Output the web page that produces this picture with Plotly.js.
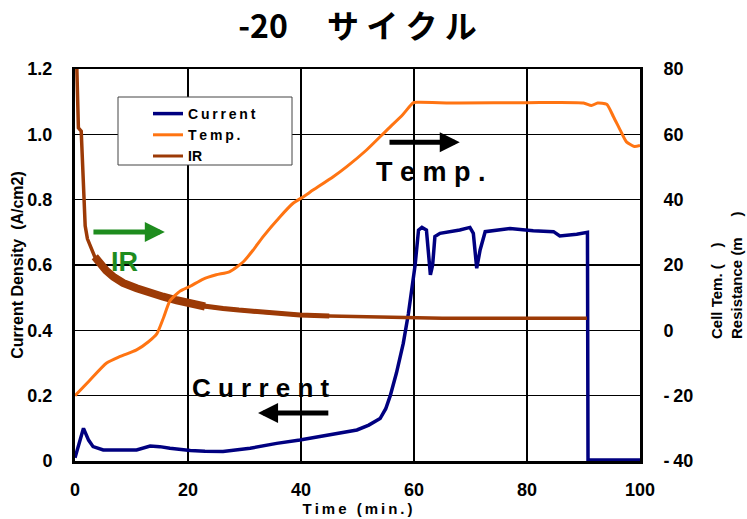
<!DOCTYPE html>
<html><head><meta charset="utf-8">
<script src="https://cdn.plot.ly/plotly-3.0.1.min.js"></script>
<style>html,body{margin:0;padding:0;background:#fff}#chart{width:747px;height:519px}</style>
</head><body><div id="chart"></div>
<script>
// ---- data ----
const timeCurrent = [0, 0.8, 1.5, 2.4, 3.2, 5, 8, 10.9, 13.3, 15, 16.8, 20.4, 23, 26.2, 31, 35.7, 39.8, 45.1, 49.9, 52, 54, 55, 55.8, 56.9, 58.1, 59, 60.2, 60.8, 61.4, 62.2, 62.5, 62.9, 63.3, 63.7, 64.6, 68.1, 69.9, 70.5, 71.1, 71.7, 72.6, 77, 81.1, 84.7, 85.8, 88.8, 90.7, 90.8, 95, 100];
const current     = [0.01, 0.06, 0.1, 0.064, 0.044, 0.034, 0.034, 0.034, 0.046, 0.044, 0.039, 0.032, 0.03, 0.029, 0.039, 0.054, 0.064, 0.08, 0.095, 0.11, 0.13, 0.16, 0.2, 0.27, 0.36, 0.45, 0.6, 0.707, 0.715, 0.707, 0.64, 0.57, 0.6, 0.687, 0.697, 0.707, 0.715, 0.697, 0.59, 0.646, 0.702, 0.712, 0.705, 0.702, 0.689, 0.694, 0.70, 0.003, 0.003, 0.003];

const timeTemp = [0, 2.5, 5.6, 8, 10.9, 13, 14.5, 15.7, 16.8, 18.6, 20.4, 22.7, 25, 27.4, 29.8, 31.5, 33.3, 36.3, 38.6, 40.5, 42.2, 45.7, 48.1, 51.6, 55.2, 58, 59.9, 61, 68, 80, 90, 91.4, 92.5, 94.1, 95.3, 96.5, 97.6, 99, 100];
const temp     = [-20, -15.5, -10, -8, -6, -3.5, -1, 4, 9, 12, 13.5, 15.7, 17, 18, 21, 24.5, 28.7, 34.8, 38.9, 41, 43, 47, 50.1, 55.2, 61.3, 66, 69.7, 69.8, 69.6, 69.7, 69.6, 68.8, 69.6, 69.2, 65.4, 61.3, 57.7, 56.3, 56.6];

const timeIR = [0.1, 0.3, 0.6, 1.1, 1.3, 1.5, 1.8, 2.2, 2.7, 3.5, 4.4, 5.5, 6.8, 8.5, 10.9, 13, 15.6, 18, 20.4, 23, 26.2, 29, 32.1, 36, 39.8, 45, 49.9, 55, 58.7, 65, 75, 85, 90.6];
const ir     = [95, 80, 62, 61, 52, 40, 32, 28, 25.6, 22.5, 20.5, 18.3, 16.4, 14.5, 12.9, 11.5, 10.3, 9.2, 8.0, 7.3, 6.7, 6.2, 5.7, 5.2, 4.7, 4.4, 4.2, 3.9, 3.7, 3.7, 3.7, 3.7, 3.7];

const xTickVals = [0, 20, 40, 60, 80, 100];
const leftTickVals = [0, 0.2, 0.4, 0.6, 0.8, 1.0, 1.2];
const leftTickText = ['0', '0.2', '0.4', '0.6', '0.8', '1.0', '1.2'];
const rightTickVals = [-40, -20, 0, 20, 40, 60, 80];

// ---- styling helpers ----
const FONT = 'Liberation Sans, Arial, sans-serif';
const sp = s => s.split('').join('\u2009');
const C_CUR = '#000080', C_TEMP = '#ff7412', C_IR = '#9c3a06', C_GREEN = '#1e8c1e';

function subset(xs, ys, lo, hi) {
  const ox = [], oy = [];
  xs.forEach((x, i) => { if (x >= lo && x <= hi) { ox.push(x); oy.push(ys[i]); } });
  return {x: ox, y: oy};
}
const irBand1 = subset(timeIR, ir, 3.5, 23);
const irBand2 = subset(timeIR, ir, 20.4, 45);

const traces = [
  {x: timeIR, y: ir, yaxis: 'y2', type: 'scatter', mode: 'lines', showlegend: false, hoverinfo: 'skip',
   line: {color: C_IR, width: 3.5}},
  {x: irBand1.x, y: irBand1.y, yaxis: 'y2', type: 'scatter', mode: 'lines', showlegend: false, hoverinfo: 'skip',
   line: {color: C_IR, width: 8}},
  {x: irBand2.x, y: irBand2.y, yaxis: 'y2', type: 'scatter', mode: 'lines', showlegend: false, hoverinfo: 'skip',
   line: {color: C_IR, width: 5}},
  {x: timeCurrent, y: current, name: sp('Current'), type: 'scatter', mode: 'lines',
   line: {color: C_CUR, width: 3.5}, legendrank: 1},
  {x: timeTemp, y: temp, name: sp('Temp.'), yaxis: 'y2', type: 'scatter', mode: 'lines',
   line: {color: C_TEMP, width: 3, shape: 'spline', smoothing: 0.6}, legendrank: 2},
  {x: [null], y: [null], name: 'IR', yaxis: 'y2', type: 'scatter', mode: 'lines',
   line: {color: C_IR, width: 3}, legendrank: 3}
];

const arrow = (hx, hy, tx, ty, color) => ({
  x: hx, y: hy, ax: tx, ay: ty, xref: 'x', yref: 'y', axref: 'x', ayref: 'y',
  text: '', showarrow: true, arrowhead: 2, arrowsize: 0.8, arrowwidth: 5, arrowcolor: color
});

const PW = 747 - 75 - 107, PH = 519 - 69 - 58;
const px2x = p => (p - 75) / PW;
const py2y = p => (519 - 58 - p) / PH;

const layout = {
  width: 747, height: 519,
  margin: {l: 75, r: 107, t: 69, b: 58},
  paper_bgcolor: '#fff', plot_bgcolor: '#fff',
  font: {family: FONT, color: '#000', size: 15},
  title: {text: '<b>-20\u3000 サ イ ク ル</b>', font: {family: 'Noto Sans CJK JP', size: 32, color: '#000'},
          x: 0.5, xref: 'paper', xanchor: 'center', y: 0.948, yref: 'container', yanchor: 'middle'},
  showlegend: true,
  legend: {x: px2x(148), y: py2y(98), xanchor: 'left', yanchor: 'top', bgcolor: 'rgba(0,0,0,0)',
           borderwidth: 0, font: {family: FONT, size: 14, weight: 'bold'},
           tracegroupgap: 0, traceorder: 'normal'},
  shapes: [
    {type: 'rect', xref: 'paper', yref: 'paper', x0: px2x(118), x1: px2x(292), y0: py2y(165), y1: py2y(97),
     line: {color: '#444', width: 1}, fillcolor: '#fff', layer: 'above'}
  ],
  xaxis: {range: [0, 100], tickvals: xTickVals, ticktext: xTickVals.map(v => '<b>' + v + '</b>'),
          showgrid: true, gridcolor: '#000', gridwidth: 1.5, zeroline: false,
          showline: true, mirror: true, linecolor: '#000', linewidth: 2.5,
          ticks: '', ticklabelstandoff: 11, tickfont: {family: FONT, size: 18},
          title: {text: '<b>' + sp('Time (min.)') + '</b>', font: {family: FONT, size: 15}, standoff: 3}},
  yaxis: {range: [0, 1.2], tickvals: leftTickVals, ticktext: leftTickText.map(t => '<b>' + t + '</b>'),
          showgrid: true, gridcolor: '#000', gridwidth: 1.5, zeroline: false,
          showline: true, mirror: false, linecolor: '#000', linewidth: 3,
          ticks: '', ticklabelstandoff: 16, tickfont: {family: FONT, size: 18},
          title: {text: '<b>Current Density  (A/cm2)</b>', font: {family: FONT, size: 16}, standoff: 0}},
  yaxis2: {range: [-40, 80], overlaying: 'y', side: 'right', tickvals: rightTickVals,
           ticktext: rightTickVals.map(v => '<b>' + (v < 0 ? '-\u2009' + Math.abs(v) : String(v)) + '</b>'),
           showgrid: false, zeroline: false, showline: true, linecolor: '#000', linewidth: 3,
           ticks: '', ticklabelstandoff: 17, tickfont: {family: FONT, size: 18}},
  annotations: [
    arrow(68.1, 0.976, 55.4, 0.976, '#000'),
    arrow(15.9, 0.701, 3.0, 0.701, C_GREEN),
    arrow(32.4, 0.147, 45.1, 0.147, '#000'),
    {x: 63.0, y: 0.885, xref: 'x', yref: 'y', text: '<b>T e m p .</b>', showarrow: false,
     font: {family: FONT, size: 27, color: '#000'}},
    {x: 33.0, y: 0.222, xref: 'x', yref: 'y', text: '<b>C u r r e n t</b>', showarrow: false,
     font: {family: FONT, size: 26, color: '#000'}},
    {x: 8.7, y: 0.61, xref: 'x', yref: 'y', text: '<b>IR</b>', showarrow: false,
     font: {family: FONT, size: 27, color: C_GREEN}},
    {x: px2x(726), y: py2y(275), xref: 'paper', yref: 'paper', xanchor: 'center', yanchor: 'middle',
     text: '<b>Cell Tem. (    )<br>Resistance (m     )</b>',
     showarrow: false, textangle: -90, align: 'left', font: {family: FONT, size: 15, color: '#000'}}
  ]
};

Plotly.newPlot('chart', traces, layout, {displayModeBar: false, staticPlot: true});
</script></body></html>
